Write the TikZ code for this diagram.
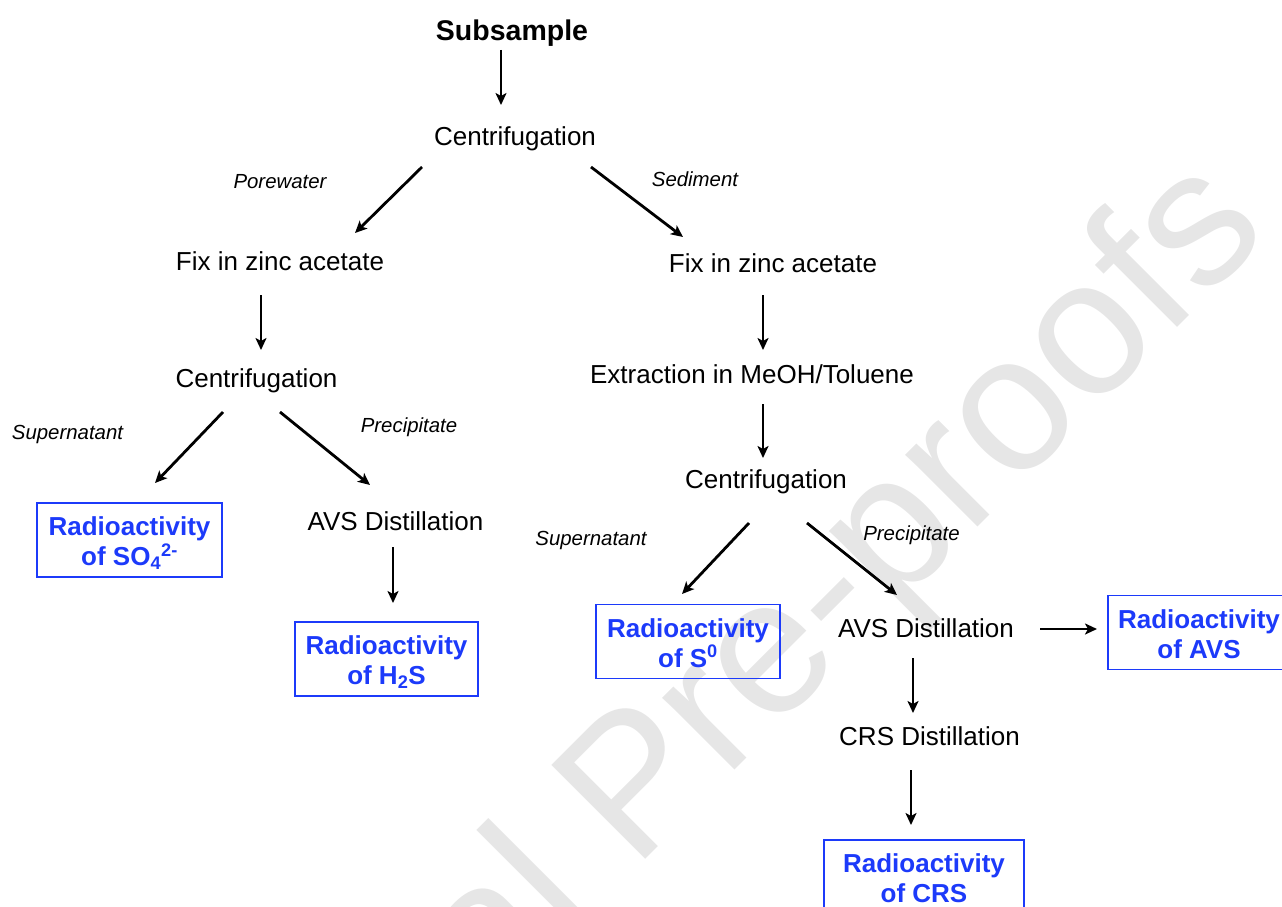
\documentclass[tikz,border=0pt]{standalone}
\usepackage{fontspec}
\setmainfont{Liberation Sans}
\usetikzlibrary{arrows.meta,calc}
\definecolor{radblue}{RGB}{28,58,250}
\definecolor{markgray}{RGB}{230,230,230}
\newcommand{\radtext}[1]{\rule{0pt}{28pt}Radioactivity\\of #1\rule[-7pt]{0pt}{7pt}}

\tikzset{
  proc/.style={inner sep=0pt,text height=18.6pt,text depth=0pt,font=\fontsize{26}{30}\selectfont},
  lab/.style={inner sep=0pt,text height=14.6pt,text depth=0pt,font=\fontsize{20.4}{24}\selectfont\itshape},
  result/.style={draw=radblue,line width=1.6pt,text=radblue,align=center,
    inner sep=0pt,minimum height=74pt,font=\fontsize{26}{30}\selectfont\bfseries},
  flow/.style={-{Stealth[length=12pt,width=11pt,inset=3pt]},line width=2.8pt}
}

\begin{document}
\begin{tikzpicture}[x=1pt,y=-1pt,line cap=butt]
  \useasboundingbox (0,0) rectangle (1282,907);
  \clip (0,0) rectangle (1282,907);
  % watermark
  \node[rotate=45,anchor=base west,inner sep=0pt,text=markgray,
    font=\fontsize{193}{193}\selectfont] (mark) at (149,1356) {Journal Pre-proofs};
  % steps
  \node[inner sep=0pt,text height=20.4pt,text depth=0pt,
    font=\fontsize{28.5}{32}\selectfont\bfseries] (sub) at (512,30) {Subsample};
  \node[proc] (cenT) at (515,136) {Centrifugation};
  \node[lab] (labPore) at (280,181) {Porewater};
  \node[lab] (labSed) at (695,179) {Sediment};
  \node[proc] (fixP) at (280,261) {Fix in zinc acetate};
  \node[proc] (fixS) at (773,263) {Fix in zinc acetate};
  \node[proc] (cenP) at (256.5,378) {Centrifugation};
  \node[proc] (extr) at (752,374) {Extraction in MeOH/Toluene};
  \node[proc] (cenS) at (766,479) {Centrifugation};
  \node[lab] (labSupP) at (67.5,432) {Supernatant};
  \node[lab] (labPreP) at (409,425) {Precipitate};
  \node[proc] (avsP) at (395.5,521) {AVS Distillation};
  \node[lab] (labSupS) at (591,538) {Supernatant};
  \node[lab] (labPreS) at (911.5,533) {Precipitate};
  \node[proc] (avsS) at (926,628) {AVS Distillation};
  \node[proc] (crsD) at (929.5,736) {CRS Distillation};
  % results
  \node[result,minimum width=185pt] (so4) at (129.5,540) {\radtext{SO\textsubscript{4}\textsuperscript{2-}}};
  \node[result,minimum width=183pt] (h2s) at (386.5,659) {\radtext{H\textsubscript{2}S}};
  \node[result,minimum width=184pt] (s0) at (688,641.5) {\radtext{S\textsuperscript{0}}};
  \node[result,minimum width=182pt] (avs) at (1199,632.5) {\radtext{AVS}};
  \node[result,minimum width=200pt] (crs) at (924,877) {\radtext{CRS}};
  % arrows
  \draw[flow] ($(sub)+(-11,20)$) -- ($(cenT)+(-14,-31)$);
  \draw[flow] ($(cenT)+(-93,31)$) -- ($(fixP)+(75,-28)$);
  \draw[flow] ($(cenT)+(76,31)$) -- ($(fixS)+(-90,-26)$);
  \draw[flow] ($(fixP)+(-19,34)$) -- ($(cenP)+(4.5,-28)$);
  \draw[flow] ($(fixS)+(-10,32)$) -- ($(extr)+(11,-24)$);
  \draw[flow] ($(extr)+(11,30)$) -- ($(cenS)+(-3,-21)$);
  \draw[flow] ($(cenP)+(-33.5,34)$) -- ($(so4)+(25.5,-57)$);
  \draw[flow] ($(cenP)+(23.5,34)$) -- ($(avsP)+(-25.5,-36)$);
  \draw[flow] ($(avsP)+(-2.5,26)$) -- ($(h2s)+(6.5,-56)$);
  \draw[flow] ($(cenS)+(-17,44)$) -- ($(s0)+(-6,-47.5)$);
  \draw[flow] ($(cenS)+(41,44)$) -- ($(avsS)+(-29,-33)$);
  \draw[flow] ($(avsS)+(114,1)$) -- ($(avs)+(-102,-3.5)$);
  \draw[flow] ($(avsS)+(-13,30)$) -- ($(crsD)+(-16.5,-23)$);
  \draw[flow] ($(crsD)+(-18.5,34)$) -- ($(crs)+(-13,-52)$);
\end{tikzpicture}
\end{document}
